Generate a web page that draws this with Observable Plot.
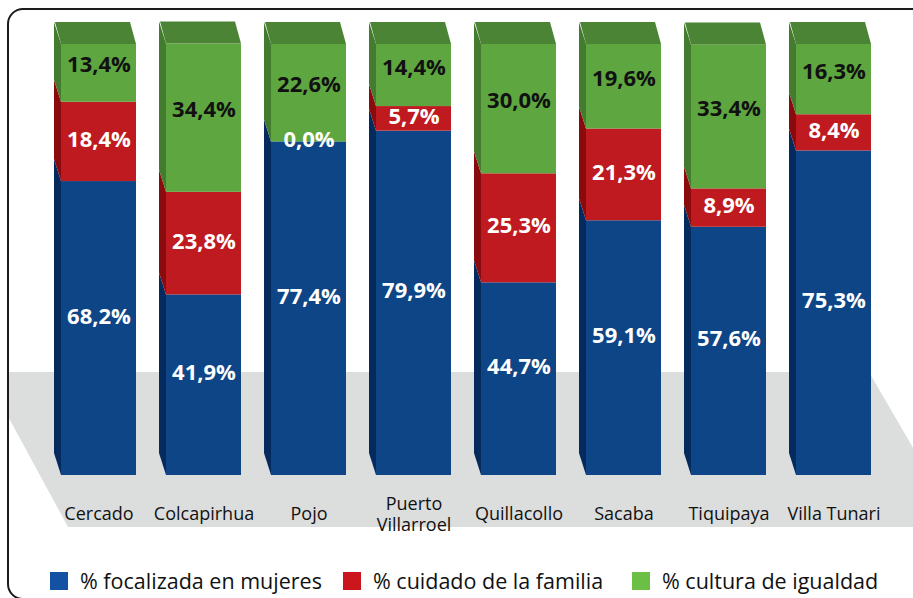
<!DOCTYPE html>
<html>
<head>
<meta charset="utf-8">
<script src="https://cdn.jsdelivr.net/npm/d3@7"></script>
<script src="https://cdn.jsdelivr.net/npm/@observablehq/plot@0.6"></script>
<style>
  html, body { margin: 0; padding: 0; background: #fff; }
  #page { position: relative; width: 913px; height: 598px; overflow: hidden; font-family: "Open Sans", sans-serif; }
  #frame { position: absolute; left: 7px; top: 8px; width: 930px; height: 588px; border: 2px solid #1b1b1b; border-radius: 16px; overflow: hidden; }
  #chart { position: absolute; left: -9px; top: -10px; }
  .leg { position: absolute; top: 566px; display: flex; align-items: center; font-size: 21.5px; color: #111; white-space: nowrap; }
  .leg .sw { width: 18px; height: 18px; margin-right: 12px; }
</style>
</head>
<body>
<div id="page">
  <div id="frame"><div id="chart"></div></div>
</div>
<script>
const categories = ["Cercado", "Colcapirhua", "Pojo", "Puerto Villarroel", "Quillacollo", "Sacaba", "Tiquipaya", "Villa Tunari"];
const tickLabels = ["Cercado", "Colcapirhua", "Pojo", "Puerto\nVillarroel", "Quillacollo", "Sacaba", "Tiquipaya", "Villa Tunari"];
const series = ["% focalizada en mujeres", "% cuidado de la familia", "% cultura de igualdad"];
const focalizada = [68.2, 41.9, 77.4, 79.9, 44.7, 59.1, 57.6, 75.3];
const cuidado = [18.4, 23.8, 0.0, 5.7, 25.3, 21.3, 8.9, 8.4];
const cultura = [13.4, 34.4, 22.6, 14.4, 30.0, 19.6, 33.4, 16.3];

const frontColors = ["#0e4586", "#be1a1f", "#5ea63f"];
const sideColors = ["#052a5e", "#8a0b0d", "#437c2f"];
const topColor = "#4a8434";
const legendColors = ["#1352a2", "#cc161d", "#6cbf45"];
const labelColors = ["#ffffff", "#ffffff", "#111111"];
const labelDy = [-12, -2, -8];

const seriesValues = [focalizada, cuidado, cultura];
const rows = [];
categories.forEach((cat, ci) => {
  let base = 0;
  series.forEach((s, si) => {
    const v = seriesValues[si][ci];
    rows.push({cat, series: s, si, value: v, y1: base, y2: base + v});
    base += v;
  });
});

const fmt = v => v.toFixed(1).replace(".", ",") + "%";
const DX = 7, DY = 22;

function poly(g, pts, fill) {
  g.append("polygon").attr("points", pts.map(p => p.join(",")).join(" ")).attr("fill", fill);
}

const bars = Plot.barY(rows, {
  x: "cat", y1: "y1", y2: "y2", fill: "series",
  render(index, scales, values, dimensions, context, next) {
    const front = next(index, scales, values, dimensions, context);
    const wrap = d3.create("svg:g");
    const y0 = scales.y(0);
    // floor (decorative base plane)
    poly(wrap, [[-16, y0 - 103], [869, y0 - 103], [959, y0 + 52], [68, y0 + 52]], "#dcdddd");
    const w = scales.x.bandwidth();
    // side faces
    for (const i of index) {
      const x0 = values.x[i];
      const yt = Math.min(values.y1[i], values.y2[i]);
      const yb = Math.max(values.y1[i], values.y2[i]);
      if (yb - yt <= 0) continue;
      poly(wrap, [[x0, yt], [x0 - DX, yt - DY], [x0 - DX, yb - DY], [x0, yb]], sideColors[rows[i].si]);
    }
    wrap.node().appendChild(front);
    // top faces
    for (const i of index) {
      if (rows[i].si !== series.length - 1) continue;
      const x0 = values.x[i];
      const yt = Math.min(values.y1[i], values.y2[i]);
      poly(wrap, [[x0, yt], [x0 + w, yt], [x0 + w - 6, yt - DY], [x0 - DX + 1, yt - DY]], topColor);
    }
    return wrap.node();
  }
});

const valueLabels = series.map((s, si) => Plot.text(rows.filter(r => r.si === si), {
  x: "cat", y: d => (d.y1 + d.y2) / 2, text: d => fmt(d.value),
  fill: labelColors[si], fontWeight: 700, fontSize: 22, dy: labelDy[si]
}));

const chart = Plot.plot({
  width: 913, height: 545,
  marginTop: 44, marginBottom: 70, marginLeft: 31, marginRight: 11,
  x: {domain: categories, padding: 0.2857, axis: null},
  y: {domain: [0, 100], axis: null},
  color: {domain: series, range: frontColors},
  style: {background: "transparent", fontFamily: "'Open Sans', sans-serif"},
  marks: [
    bars,
    ...valueLabels,
    Plot.text(categories, {x: d => d, y: 0, text: (d, i) => tickLabels[i], dy: 38, lineAnchor: "middle", fontSize: 18, fill: "#111", lineHeight: 1.2})
  ]
});
document.getElementById("chart").appendChild(chart);

// legend
const legendLeft = [50, 343, 632];
const page = document.getElementById("page");
series.forEach((s, i) => {
  const item = document.createElement("div");
  item.className = "leg";
  item.style.left = legendLeft[i] + "px";
  const sw = document.createElement("div");
  sw.className = "sw";
  sw.style.background = legendColors[i];
  const t = document.createElement("span");
  t.textContent = s;
  item.appendChild(sw);
  item.appendChild(t);
  page.appendChild(item);
});
</script>
</body>
</html>
